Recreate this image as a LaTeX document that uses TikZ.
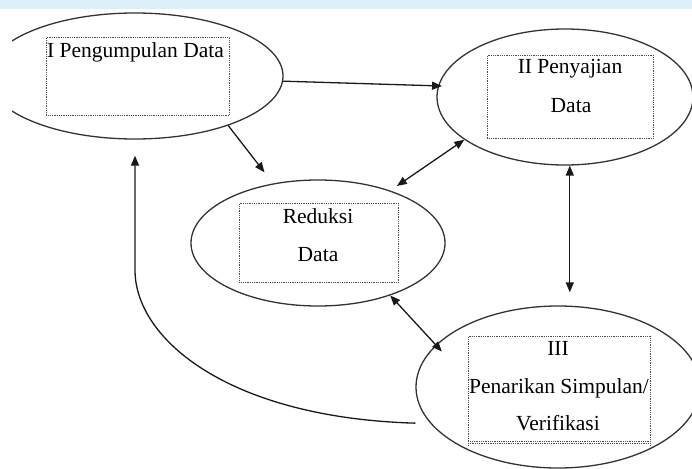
\documentclass[tikz,border=0pt]{standalone}
\usepackage{fontspec}
\setmainfont{Liberation Serif}
\usetikzlibrary{shapes.geometric,arrows.meta}
\definecolor{bandblue}{RGB}{221,240,250}
\begin{document}
\begin{tikzpicture}[x=1pt,y=-1pt,
  ell/.style={draw=black!80,line width=1.3pt,ellipse,inner sep=0pt},
  dbox/.style={draw=black!70,line width=0.9pt,dash pattern=on 0.9pt off 0.9pt,inner sep=0pt,anchor=north west},
  lbl/.style={inner sep=0pt,anchor=base,font=\fontsize{21.5}{26}\selectfont,text=black},
  arr/.style={draw=black!90,line width=1.3pt,-{Triangle[length=10pt,width=8pt]}},
  darr/.style={draw=black!90,line width=1.3pt,{Triangle[length=10pt,width=8pt]}-{Triangle[length=10pt,width=8pt]}}
]
\useasboundingbox (0,0) rectangle (692,468);
\fill[bandblue] (0,0) rectangle (692,9);
\begin{scope}
  \clip (12,9) rectangle (692,468);
  \node[ell,minimum width=296pt,minimum height=126pt] (e1) at (135,76) {};
  \node[ell,minimum width=256pt,minimum height=136pt] (e2) at (565,97) {};
  \node[ell,minimum width=254pt,minimum height=126pt] (e3) at (318,243) {};
  \node[ell,minimum width=284pt,minimum height=162pt] (e4) at (558,387) {};
\end{scope}

% dotted boxes
\node[dbox,minimum width=183pt,minimum height=78pt] (b1) at (46,37) {};
\node[dbox,minimum width=166pt,minimum height=83pt] (b2) at (487,55) {};
\node[dbox,minimum width=159pt,minimum height=79pt] (b3) at (239,203) {};
\node[dbox,minimum width=182pt,minimum height=105pt] (b4) at (468,336) {};
\draw[draw=black!70,line width=0.9pt,dash pattern=on 0.9pt off 0.9pt] (468,443.5) -- (650,443.5);
\draw[draw=black!70,line width=0.9pt,dash pattern=on 0.9pt off 0.9pt] (468,441) -- (468,446) (650,441) -- (650,446);

% labels
\node[lbl,anchor=base west] (t1) at (47,58) {I Pengumpulan Data};
\node[lbl] (t2a) at (570,74) {II Penyajian};
\node[lbl] (t2b) at (571,112) {Data};
\node[lbl] (t3a) at (318,223) {Reduksi};
\node[lbl] (t3b) at (318,261) {Data};
\node[lbl] (t4a) at (558,355) {III};
\node[lbl] (t4b) at (559,393) {Penarikan Simpulan/};
\node[lbl] (t4c) at (558,430) {Verifikasi};

% connectors
\draw[arr,shorten >=-4pt] (e1.-2.3) -- (e2.175.4);
\draw[arr,shorten >=14pt] (e1.-28.5) -- (e3.127.8);
\draw[darr,shorten <=8pt] (e3.36.2) -- (e2.203);
\draw[darr,shorten >=13pt] (e2.-86) -- (e2.-86 |- e4.north);
\draw[darr,shorten >=-9pt] (e3.-36.4) -- (e4.161.6);
\draw[arr,shorten <=15pt,shorten >=16pt] (e4.196) .. controls (230,418) and (135,340) .. (135,270) -- (e1.south);
\end{tikzpicture}
\end{document}
